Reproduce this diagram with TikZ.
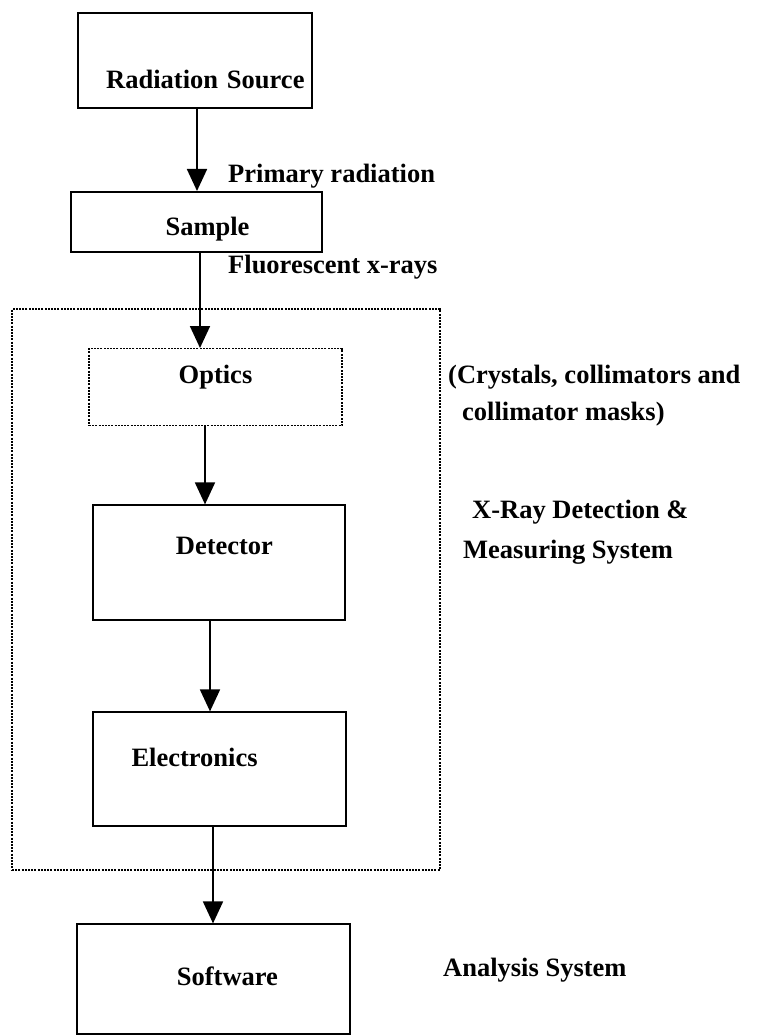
\documentclass[tikz,border=0pt]{standalone}
\usepackage{fontspec}
\setmainfont{Liberation Serif}
\usepackage{tikz}
\usetikzlibrary{arrows.meta,positioning}

\begin{document}
\begin{tikzpicture}[
  x=1pt, y=-1pt,
  node distance=82pt,
  txt/.style={font=\fontsize{26.5}{37}\selectfont\bfseries},
  box/.style={txt, draw=black, line width=2pt, inner sep=0pt, align=center},
  dbox/.style={box, line width=1.4pt, dash pattern=on 2pt off 1.2pt},
  note/.style={txt, inner sep=0pt, anchor=west, align=left},
  arr/.style={-{Triangle[width=20pt,length=22pt]}, line width=1.8pt, draw=black}
]
\useasboundingbox (0,0) rectangle (758,1035);
\node[dbox, minimum width=428pt, minimum height=561pt] (sys) at (226,589.5) {};
\node[box, minimum width=234pt, minimum height=95pt, text width=219pt, align=right, text height=57pt, text depth=0pt] (src) at (195,60.5) {Radiation Source};
\node[box, below=82pt of src, xshift=1.5pt, minimum width=251pt, minimum height=60pt, text width=106pt, align=right, text height=26pt, text depth=0pt] (smp) {Sample};
\node[dbox, below=95pt of smp, xshift=19pt, minimum width=253pt, minimum height=77pt, text height=10pt, text depth=18pt] (opt) {Optics};
\node[box, below=78pt of opt, xshift=3.5pt, minimum width=252pt, minimum height=115pt, text width=108pt, align=right, text height=5pt, text depth=22pt] (det) {Detector};
\node[box, below=90pt of det, xshift=0.5pt, minimum width=253pt, minimum height=114pt, text width=176pt, align=left, text height=10pt, text depth=16pt] (ele) {Electronics};
\node[box, below=96pt of ele, xshift=-6.5pt, minimum width=273pt, minimum height=110pt, text width=130pt, align=right, text height=20pt, text depth=8pt] (sw) {Software};
% side notes
\node[note] (prim) at (228,176) {Primary radiation};
\node[note] (fluo) at (228,267) {Fluorescent x-rays};
\node[note] (crys) at (448,396) {(Crystals, collimators and\\\hspace*{14pt}collimator masks)};
\node[note] (xray) at (463,532) {\hspace*{9pt}X-Ray Detection \&\\[3pt]Measuring System};
\node[note] (ana) at (443,970) {Analysis System};
\draw[arr] ([xshift=2pt]src.south) -- ([xshift=0.5pt]smp.north);
\draw[arr] ([xshift=3.5pt]smp.south) -- ([xshift=-15.5pt]opt.north);
\draw[arr] ([xshift=-10.5pt]opt.south) -- ([xshift=-14pt]det.north);
\draw[arr] ([xshift=-9pt]det.south) -- ([xshift=-9.5pt]ele.north);
\draw[arr] ([xshift=-6.5pt]ele.south) -- (sw.north);
\end{tikzpicture}
\end{document}
